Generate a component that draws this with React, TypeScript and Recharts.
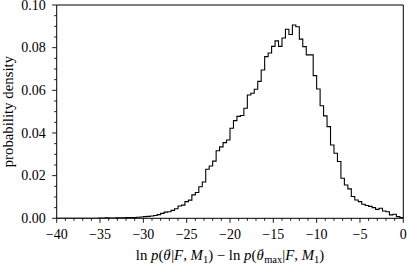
import React from 'react'
import { ComposedChart, Line, XAxis, YAxis, ReferenceLine } from 'recharts'

// histogram of ln p(theta|F,M1) - ln p(theta_max|F,M1), 100 bins of width 0.4 on [-40, 0]
const BIN_START = -40
const BIN_WIDTH = 0.4

const DENSITY = [
  0, 0, 0, 0, 0, 0, 0, 0, 0, 0,
  0, 0, 0.0001, 0.0001, 0.0002, 0.0001, 0.0001, 0.0002, 0.0002, 0.0002,
  0.0003, 0.0004, 0.0003, 0.0005, 0.0006, 0.0008, 0.0009, 0.0011, 0.0013, 0.0017,
  0.0023, 0.0029, 0.0031, 0.0037, 0.0045, 0.0058, 0.0062, 0.0078, 0.0085, 0.0110,
  0.0121, 0.0148, 0.0170, 0.0230, 0.0245, 0.0268, 0.0317, 0.0335, 0.0355, 0.0367,
  0.0422, 0.0458, 0.0478, 0.0482, 0.0516, 0.0578, 0.0586, 0.0605, 0.0642, 0.0695,
  0.0758, 0.0775, 0.0806, 0.0832, 0.0806, 0.0845, 0.0886, 0.0862, 0.0906, 0.0898,
  0.0840, 0.0805, 0.0766, 0.0766, 0.0669, 0.0606, 0.0528, 0.0480, 0.0430, 0.0344,
  0.0305, 0.0266, 0.0188, 0.0156, 0.0138, 0.0102, 0.0086, 0.0078, 0.0066, 0.0060,
  0.0056, 0.0050, 0.0042, 0.0047, 0.0034, 0.0031, 0.0016, 0.0019, 0.0008, 0.0004,
]

const X_MAJOR = [-40, -35, -30, -25, -20, -15, -10, -5, 0]
const Y_MAJOR = [0, 0.02, 0.04, 0.06, 0.08, 0.1]
const X_MINOR_STEP = 1
const Y_MINOR_STEP = 0.005

const FONT = '"Liberation Serif", "Times New Roman", serif'

const xTicks: number[] = []
for (let v = -40; v <= 0.001; v += X_MINOR_STEP) xTicks.push(Math.round(v))
const yTicks: number[] = []
for (let i = 0; i <= 20; i++) yTicks.push(+(i * Y_MINOR_STEP).toFixed(3))

const histData = DENSITY.map((d, k) => ({ x: +(BIN_START + k * BIN_WIDTH).toFixed(2), y: d }))
histData.push({ x: 0, y: DENSITY[DENSITY.length - 1] })
histData.push({ x: 0, y: 0 })

const isMajor = (v: number, list: number[]) => list.some((m) => Math.abs(m - v) < 1e-6)

function XTick({ x, y, payload }: any) {
  const v = payload.value
  const major = isMajor(v, X_MAJOR)
  return (
    <g>
      <line x1={x} x2={x} y1={y} y2={y + (major ? 4.5 : 2.5)} stroke="#000" strokeWidth={0.9} />
      {major && (
        <text x={x} y={y + 21} textAnchor="middle" fontFamily={FONT} fontSize={14} fill="#000">
          {v < 0 ? '\u2212' + Math.abs(v) : v}
        </text>
      )}
    </g>
  )
}

function YTick({ x, y, payload }: any) {
  const v = payload.value
  const major = isMajor(v, Y_MAJOR)
  return (
    <g>
      <line x1={x - (major ? 4.5 : 2.5)} x2={x} y1={y} y2={y} stroke="#000" strokeWidth={0.9} />
      {major && (
        <text x={x - 11} y={y + 4.8} textAnchor="end" fontFamily={FONT} fontSize={14} fill="#000">
          {v.toFixed(2)}
        </text>
      )}
    </g>
  )
}

const ARROW_UP = 9

function XLabel({ viewBox }: any) {
  const cx = viewBox ? viewBox.x + viewBox.width / 2 : 230
  const y = viewBox ? viewBox.y + 42 : 260
  const sub = { fontSize: 10.5 }
  return (
    <text x={cx} y={y} textAnchor="middle" fontFamily={FONT} fontSize={14.8} fill="#000">
      <tspan>ln </tspan>
      <tspan fontStyle="italic">p</tspan>
      <tspan>(</tspan>
      <tspan fontStyle="italic">{'\u03B8'}</tspan>
      <tspan fontSize={8} dx={-7} dy={-ARROW_UP}>{'\u2192'}</tspan>
      <tspan dx={-0.5} dy={ARROW_UP}>|</tspan>
      <tspan fontStyle="italic">F</tspan>
      <tspan>, </tspan>
      <tspan fontStyle="italic">M</tspan>
      <tspan {...sub} dy={3}>1</tspan>
      <tspan dy={-3}>) {'\u2212'} ln </tspan>
      <tspan fontStyle="italic">p</tspan>
      <tspan>(</tspan>
      <tspan fontStyle="italic">{'\u03B8'}</tspan>
      <tspan fontSize={8} dx={-7} dy={-ARROW_UP}>{'\u2192'}</tspan>
      <tspan {...sub} dx={-0.5} dy={ARROW_UP + 3}>max</tspan>
      <tspan dy={-3}>|</tspan>
      <tspan fontStyle="italic">F</tspan>
      <tspan>, </tspan>
      <tspan fontStyle="italic">M</tspan>
      <tspan {...sub} dy={3}>1</tspan>
      <tspan dy={-3}>)</tspan>
    </text>
  )
}

function YLabel({ viewBox }: any) {
  const cy = viewBox ? viewBox.y + viewBox.height / 2 : 112
  return (
    <text x={13} y={cy} transform={`rotate(-90 13 ${cy})`} textAnchor="middle"
      fontFamily={FONT} fontSize={14.8} fill="#000">
      probability density
    </text>
  )
}

export default function App() {
  return (
    <div style={{ position: 'absolute', left: 0, top: 0, background: '#fff' }}>
      <ComposedChart width={407} height={265} data={histData}
        margin={{ top: 5, right: 3.7, bottom: 0, left: 0 }}>
        <XAxis type="number" dataKey="x" domain={[-40, 0]} ticks={xTicks} interval={0}
          allowDataOverflow height={46.7} tickSize={0} tickMargin={0} tickLine={false}
          axisLine={{ stroke: '#000', strokeWidth: 1 }} tick={(p: any) => <XTick {...p} />}
          label={<XLabel />} />
        <YAxis type="number" domain={[0, 0.1]} ticks={yTicks} interval={0}
          allowDataOverflow width={56.7} tickSize={0} tickMargin={0} tickLine={false}
          axisLine={{ stroke: '#000', strokeWidth: 1 }} tick={(p: any) => <YTick {...p} />}
          label={<YLabel />} />
        <ReferenceLine y={0.1} stroke="#000" strokeWidth={1} />
        <ReferenceLine x={0} stroke="#000" strokeWidth={1} />
        <Line type="stepAfter" dataKey="y" stroke="#000" strokeWidth={1.1} dot={false}
          isAnimationActive={false} />
      </ComposedChart>
    </div>
  )
}
